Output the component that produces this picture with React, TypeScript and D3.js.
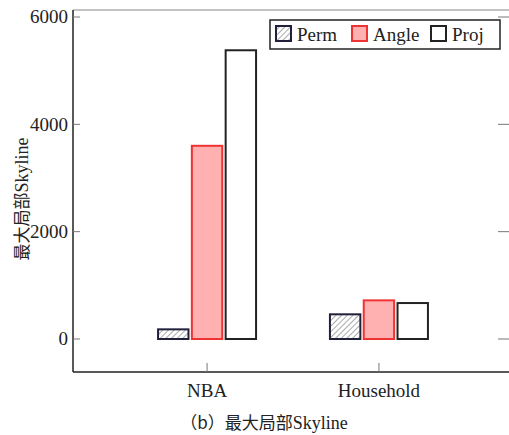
import React from "react";
import * as d3 from "d3";

const categories = ["NBA", "Household"];
const seriesNames = ["Perm", "Angle", "Proj"];
const permValues = [180, 460];
const angleValues = [3600, 720];
const projValues = [5380, 670];
const yTicks = [0, 2000, 4000, 6000];

const W = 509;
const H = 435;
const left = 73;
const right = 513;
const top = 10;
const bottom = 372;

const serif = "Liberation Serif, Times New Roman, DejaVu Serif, serif";
const cjk = "Noto Sans CJK SC, sans-serif";

export default function App() {
  const y = d3.scaleLinear().domain([0, 6000]).range([339, 17]);
  const x = d3.scalePoint<string>().domain(categories).range([left, right]).padding(0.78);
  const inner = d3.scaleBand<string>().domain(seriesNames).range([-49, 49]).paddingInner(0.1);
  const bw = inner.bandwidth();
  const valuesBy: Record<string, number[]> = { Perm: permValues, Angle: angleValues, Proj: projValues };
  const style: Record<string, { fill: string; stroke: string }> = {
    Perm: { fill: "url(#hatch)", stroke: "#20203a" },
    Angle: { fill: "#ffb0b0", stroke: "#ee3333" },
    Proj: { fill: "#ffffff", stroke: "#222222" },
  };
  const legendItems = [
    { name: "Perm", sx: 276, tx: 297 },
    { name: "Angle", sx: 352, tx: 373 },
    { name: "Proj", sx: 431, tx: 452 },
  ];
  const txt = { fontFamily: serif, fill: "#222" } as React.CSSProperties;
  return (
    <svg width={W} height={H} style={{ position: "absolute", left: 0, top: 0, background: "#fff" }}>
      <defs>
        <pattern id="hatch" patternUnits="userSpaceOnUse" width={4} height={4} patternTransform="rotate(45)">
          <rect width={4} height={4} fill="#fff" />
          <line x1={0} y1={0} x2={0} y2={4} stroke="#555" strokeWidth={1} />
        </pattern>
      </defs>
      {/* frame */}
      <line x1={left} y1={top} x2={right} y2={top} stroke="#888" strokeWidth={1.2} />
      <line x1={left} y1={top} x2={left} y2={bottom} stroke="#222" strokeWidth={1.5} />
      <line x1={left} y1={bottom} x2={right} y2={bottom} stroke="#222" strokeWidth={1.5} />
      {/* y ticks */}
      {yTicks.map((t) => (
        <g key={t}>
          <line x1={left} x2={left + 7} y1={y(t)} y2={y(t)} stroke="#777" strokeWidth={1} />
          <line x1={498} x2={509} y1={y(t)} y2={y(t)} stroke="#777" strokeWidth={1} />
          <text x={68} y={y(t)} dy="0.34em" textAnchor="end" fontSize={19} style={txt}>
            {t}
          </text>
        </g>
      ))}
      {/* x ticks */}
      {categories.map((c) => (
        <g key={c}>
          <line x1={x(c)} x2={x(c)} y1={bottom} y2={bottom - 9} stroke="#777" strokeWidth={1} />
          <text x={x(c)} y={397} textAnchor="middle" fontSize={19} style={txt}>
            {c}
          </text>
        </g>
      ))}
      {/* bars */}
      {seriesNames.map((s) =>
        categories.map((c, i) => {
          const v = valuesBy[s][i];
          const x0 = (x(c) as number) + (inner(s) as number);
          return (
            <rect
              key={s + c}
              x={x0}
              y={y(v)}
              width={bw}
              height={y(0) - y(v)}
              fill={style[s].fill}
              stroke={style[s].stroke}
              strokeWidth={2}
            />
          );
        })
      )}
      {/* legend */}
      <rect x={270} y={20} width={230} height={29} fill="#fff" stroke="#222" strokeWidth={1.5} />
      {legendItems.map((it) => (
        <g key={it.name}>
          <rect x={it.sx} y={26} width={15} height={15} fill={style[it.name].fill} stroke={style[it.name].stroke} strokeWidth={2} />
          <text x={it.tx} y={41} fontSize={19} style={txt}>
            {it.name}
          </text>
        </g>
      ))}
      {/* y label */}
      <text
        transform={`translate(28,${199}) rotate(-90)`}
        textAnchor="middle"
        fontSize={18}
        style={txt}
      >
        <tspan style={{ fontFamily: cjk }} fontSize={17}>最大局部</tspan>
        <tspan>Skyline</tspan>
      </text>
      {/* caption */}
      <text x={264} y={429} textAnchor="middle" fontSize={18} style={txt}>
        <tspan style={{ fontFamily: cjk }} fontSize={17}>（b）最大局部</tspan>
        <tspan>Skyline</tspan>
      </text>
    </svg>
  );
}
